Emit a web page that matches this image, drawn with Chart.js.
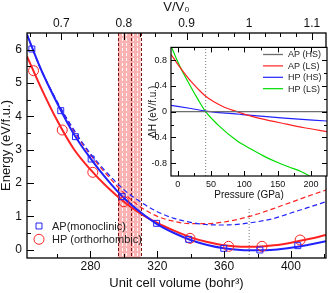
<!DOCTYPE html>
<html>
<head>
<meta charset="utf-8">
<script src="https://cdn.jsdelivr.net/npm/chart.js@4.4.1/dist/chart.umd.min.js"></script>
<style>
  html, body { margin: 0; padding: 0; background: #fff; }
  #wrap { position: relative; width: 332px; height: 293px; }
  #main { position: absolute; left: 0; top: 0; }
  #inset { position: absolute; left: 140px; top: 38px; }
</style>
</head>
<body>
<div id="wrap">
  <canvas id="main" width="332" height="293"></canvas>
  <canvas id="inset" width="192" height="172"></canvas>
</div>
<script>
// ---- main panel: E(V), volume in bohr^3, energy in eV/f.u.
const apVol = [244.9, 262.2, 271.0, 280.4, 299.0, 319.6, 338.8, 359.8, 381.4, 404.1];
const apEnergy = [6.02, 4.17, 3.39, 2.72, 1.59, 0.79, 0.31, 0.04, -0.01, 0.12];
const hpVol = [245.9, 263.1, 281.4, 300.0, 339.6, 362.7, 382.7, 405.5];
const hpEnergy = [5.37, 3.59, 2.32, 1.44, 0.34, 0.10, 0.10, 0.29];

// fitted curves
const fitVol  = [242, 250, 260, 270, 280, 290, 300, 310, 320, 330, 340, 350, 360, 370, 380, 390, 400, 410, 421];
const apFit   = [6.45, 5.45, 4.40, 3.47, 2.74, 2.10, 1.55, 1.12, 0.76, 0.50, 0.29, 0.14, 0.04, -0.01, -0.02, 0.00, 0.06, 0.14, 0.25];
const hpFit   = [5.80, 4.90, 3.88, 3.02, 2.40, 1.88, 1.44, 1.08, 0.80, 0.57, 0.37, 0.23, 0.13, 0.09, 0.09, 0.13, 0.21, 0.31, 0.44];
const apDash  = [6.45, 5.45, 4.45, 3.60, 2.88, 2.30, 1.80, 1.43, 1.14, 0.94, 0.82, 0.75, 0.74, 0.77, 0.84, 0.94, 1.10, 1.26, 1.44];
const hpDash  = [6.45, 5.45, 4.43, 3.56, 2.84, 2.24, 1.70, 1.28, 1.00, 0.85, 0.78, 0.78, 0.83, 0.93, 1.07, 1.24, 1.42, 1.60, 1.79];

const v0 = 375;                       // reference volume for V/V0
const v0Mark = [-0.25, 1.25];         // dotted marker at V0
const bandVol = [296.5, 304, 310];    // shaded transition region

const volRange = [242, 421];
const energyRange = [-0.25, 6.5];
const volTicks = [280, 320, 360, 400];
const volMinor = [260, 300, 340, 380, 420];
const energyTicks = [0, 1, 2, 3, 4, 5, 6];
const energyMinor = [0.5, 1.5, 2.5, 3.5, 4.5, 5.5];
const ratioTicks = [0.7, 0.8, 0.9, 1, 1.1];
const ratioMinor = [0.65, 0.675, 0.725, 0.75, 0.775, 0.825, 0.85, 0.875, 0.925, 0.95, 0.975, 1.025, 1.05, 1.075];

// ---- inset: enthalpy difference vs pressure
const apHsP = [-10, 224];
const apHsH = [0, 0];
const apLsP = [-10, 0, 10, 20, 30, 42, 55, 70, 89, 110, 130, 157, 190, 224];
const apLsH = [0.89, 0.74, 0.60, 0.47, 0.36, 0.24, 0.15, 0.07, 0.00, -0.07, -0.12, -0.18, -0.25, -0.31];
const hpHsP = [-10, 20, 42, 93, 160, 224];
const hpHsH = [0.10, 0.05, 0.01, -0.04, -0.10, -0.145];
const hpLsP = [-9, 0, 5, 10, 20, 30, 42, 60, 90, 110, 133, 150, 167, 185, 198];
const hpLsH = [1.0, 0.78, 0.67, 0.57, 0.38, 0.20, 0.0, -0.2, -0.46, -0.58, -0.71, -0.79, -0.86, -0.93, -1.0];
const transitionP = 42;

const presRange = [-10, 224];
const dHRange = [-1, 1];
const presTicks = [0, 50, 100, 150, 200];
const presMinor = [25, 75, 125, 175];
const dHTicks = [-0.8, -0.4, 0, 0.4, 0.8];
const dHMinor = [-0.6, -0.2, 0.2, 0.6];

const BLUE = '#2222ff';
const RED = '#ff2222';
const GREEN = '#00dd00';
const INK = '#111';

const pts = (xs, ys) => xs.map((x, i) => ({ x: x, y: ys[i] }));
const fixTicks = list => scale => { scale.ticks = list.map(v => ({ value: v })); };

// inward tick marks + frame box
const innerTicks = {
  id: 'innerTicks',
  afterDatasetsDraw(chart, args, opts) {
    if (!opts.marks) return;
    const { ctx, chartArea: a } = chart;
    ctx.save();
    ctx.strokeStyle = '#000';
    ctx.lineWidth = 1;
    opts.marks.forEach(m => {
      const scale = chart.scales[m.scale];
      [[m.major, opts.major], [m.minor, opts.minor]].forEach(([vals, len]) => {
        vals.forEach(v => {
          const p = Math.round(scale.getPixelForValue(v)) + 0.5;
          ctx.beginPath();
          m.sides.forEach(side => {
            if (side === 'bottom') { ctx.moveTo(p, a.bottom); ctx.lineTo(p, a.bottom - len); }
            if (side === 'top') { ctx.moveTo(p, a.top); ctx.lineTo(p, a.top + len); }
            if (side === 'left') { ctx.moveTo(a.left, p); ctx.lineTo(a.left + len, p); }
            if (side === 'right') { ctx.moveTo(a.right, p); ctx.lineTo(a.right - len, p); }
          });
          ctx.stroke();
        });
      });
    });
    ctx.lineWidth = opts.frame || 1.2;
    ctx.strokeRect(a.left, a.top, a.right - a.left, a.bottom - a.top);
    ctx.restore();
  }
};

// white plot background for the inset
const plotBg = {
  id: 'plotBg',
  beforeDraw(chart, args, opts) {
    if (!opts.color) return;
    const { ctx, chartArea: a } = chart;
    ctx.save();
    ctx.fillStyle = opts.color;
    ctx.fillRect(a.left, a.top, a.right - a.left, a.bottom - a.top);
    ctx.restore();
  }
};

// shaded band with hatching
const bandShade = {
  id: 'bandShade',
  beforeDatasetsDraw(chart, args, opts) {
    if (!opts.range) return;
    const { ctx, chartArea: a, scales: { x } } = chart;
    const [lo, mid, hi] = opts.range.map(v => x.getPixelForValue(v));
    ctx.save();
    ctx.fillStyle = '#f9b3b3';
    ctx.fillRect(lo, a.top, hi - lo, a.bottom - a.top);
    ctx.lineWidth = 1;
    ctx.strokeStyle = '#fff';
    ctx.setLineDash([3, 2]);
    [1, 2, 4, 5].forEach(k => {
      const px = Math.round(lo + (hi - lo) * k / 6) + 0.5;
      ctx.beginPath(); ctx.moveTo(px, a.top); ctx.lineTo(px, a.bottom); ctx.stroke();
    });
    ctx.strokeStyle = '#7a1010';
    [lo, mid, hi].forEach(p => {
      const px = Math.round(p) + 0.5;
      ctx.beginPath(); ctx.moveTo(px, a.top); ctx.lineTo(px, a.bottom); ctx.stroke();
    });
    ctx.restore();
  }
};

// small legend drawn from dataset styles
const boxLegend = {
  id: 'boxLegend',
  afterDatasetsDraw(chart, args, opts) {
    if (!opts.items) return;
    const { ctx } = chart;
    ctx.save();
    ctx.font = opts.font;
    ctx.textBaseline = 'middle';
    opts.items.forEach((i, k) => {
      const ds = chart.data.datasets[i];
      const y = opts.y + k * opts.gap;
      if (ds.showLine === false) {
        ctx.strokeStyle = ds.borderColor;
        ctx.fillStyle = 'rgba(0,0,0,0)';
        ctx.lineWidth = ds.pointBorderWidth;
        Chart.helpers.drawPoint(ctx, { pointStyle: ds.pointStyle, radius: ds.pointRadius, rotation: 0, borderWidth: ds.pointBorderWidth }, opts.x, y);
      } else {
        ctx.strokeStyle = ds.borderColor;
        ctx.lineWidth = ds.borderWidth;
        ctx.beginPath(); ctx.moveTo(opts.x, y); ctx.lineTo(opts.x + opts.len, y); ctx.stroke();
      }
      ctx.fillStyle = opts.color;
      ctx.fillText(ds.label, opts.textX, y + 0.5);
    });
    ctx.restore();
  }
};

Chart.defaults.font.family = '"Liberation Sans", Arial, Helvetica, sans-serif';
Chart.defaults.color = INK;

const mainChart = new Chart(document.getElementById('main'), {
  type: 'line',
  data: {
    datasets: [
      { label: 'AP(monoclinic)', data: pts(apVol, apEnergy), showLine: false, pointStyle: 'rect',
        pointRadius: 4.2, pointBorderWidth: 1, borderColor: BLUE, backgroundColor: 'rgba(0,0,0,0)' },
      { label: 'HP (orthorhombic)', data: pts(hpVol, hpEnergy), showLine: false, pointStyle: 'circle',
        pointRadius: 5, pointBorderWidth: 1, borderColor: RED, backgroundColor: 'rgba(0,0,0,0)' },
      { label: 'AP fit', data: pts(fitVol, apFit), borderColor: BLUE, borderWidth: 2, pointRadius: 0, cubicInterpolationMode: 'monotone' },
      { label: 'HP fit', data: pts(fitVol, hpFit), borderColor: RED, borderWidth: 2, pointRadius: 0, cubicInterpolationMode: 'monotone' },
      { label: 'AP dashed', data: pts(fitVol, apDash), borderColor: BLUE, borderWidth: 1.2, borderDash: [5, 3], pointRadius: 0, cubicInterpolationMode: 'monotone' },
      { label: 'HP dashed', data: pts(fitVol, hpDash), borderColor: RED, borderWidth: 1.2, borderDash: [5, 3], pointRadius: 0, cubicInterpolationMode: 'monotone' },
      { label: 'V0', data: pts([v0, v0], v0Mark), borderColor: '#777', borderWidth: 1, borderDash: [1, 2], pointRadius: 0 }
    ]
  },
  options: {
    responsive: false,
    animation: false,
    devicePixelRatio: 1,
    layout: { padding: { left: 0, right: 1, top: 0, bottom: 0 } },
    plugins: {
      legend: { display: false },
      tooltip: { enabled: false },
      bandShade: { range: bandVol },
      innerTicks: {
        major: 7, minor: 4, frame: 1.3,
        marks: [
          { scale: 'x', major: volTicks, minor: volMinor, sides: ['bottom'] },
          { scale: 'x2', major: ratioTicks, minor: ratioMinor, sides: ['top'] },
          { scale: 'y', major: energyTicks, minor: energyMinor, sides: ['left'] }
        ]
      },
      boxLegend: { items: [0, 1], x: 39, y: 226, gap: 13.3, textX: 52, font: '11px "Liberation Sans", Arial, sans-serif', color: '#222' }
    },
    scales: {
      x: {
        type: 'linear', position: 'bottom', min: volRange[0], max: volRange[1],
        afterBuildTicks: fixTicks(volTicks),
        afterFit: s => { s.height = 35; },
        grid: { display: false, drawTicks: false }, border: { display: false },
        ticks: { padding: 1, font: { size: 12 }, maxRotation: 0, autoSkip: false, callback: v => String(v) },
        title: { display: true, text: 'Unit cell volume (bohr³)', font: { size: 13 }, padding: { top: 0, bottom: 2 } }
      },
      x2: {
        type: 'linear', position: 'top', min: volRange[0] / v0, max: volRange[1] / v0,
        afterBuildTicks: fixTicks(ratioTicks),
        afterFit: s => { s.height = 33; },
        grid: { display: false, drawTicks: false }, border: { display: false },
        ticks: { padding: 2, font: { size: 12 }, maxRotation: 0, autoSkip: false, callback: v => String(v) },
        title: { display: true, text: 'V/V₀', font: { size: 13 }, padding: { top: 0, bottom: 0 } }
      },
      y: {
        type: 'linear', position: 'left', min: energyRange[0], max: energyRange[1],
        afterBuildTicks: fixTicks(energyTicks),
        afterFit: s => { s.width = 27; },
        grid: { display: false, drawTicks: false }, border: { display: false },
        ticks: { padding: 5, font: { size: 12 }, autoSkip: false, callback: v => String(v) },
        title: { display: true, text: 'Energy (eV/f.u.)', font: { size: 13, lineHeight: 1 }, padding: { top: 0, bottom: 0 } }
      }
    }
  },
  plugins: [bandShade, innerTicks, boxLegend]
});

const insetChart = new Chart(document.getElementById('inset'), {
  type: 'line',
  data: {
    datasets: [
      { label: 'AP (HS)', data: pts(apHsP, apHsH), borderColor: '#6e6e6e', borderWidth: 1.3, pointRadius: 0 },
      { label: 'AP (LS)', data: pts(apLsP, apLsH), borderColor: RED, borderWidth: 1.2, pointRadius: 0, cubicInterpolationMode: 'monotone' },
      { label: 'HP (HS)', data: pts(hpHsP, hpHsH), borderColor: BLUE, borderWidth: 1.2, pointRadius: 0, cubicInterpolationMode: 'monotone' },
      { label: 'HP (LS)', data: pts(hpLsP, hpLsH), borderColor: GREEN, borderWidth: 1.2, pointRadius: 0, cubicInterpolationMode: 'monotone' },
      { label: 'Pt', data: pts([transitionP, transitionP], dHRange), borderColor: '#777', borderWidth: 1, borderDash: [1, 2], pointRadius: 0 }
    ]
  },
  options: {
    responsive: false,
    animation: false,
    devicePixelRatio: 1,
    layout: { padding: { left: 0, right: 5, top: 5, bottom: 0 } },
    plugins: {
      legend: { display: false },
      tooltip: { enabled: false },
      plotBg: { color: '#fff' },
      innerTicks: {
        major: 5, minor: 3, frame: 1.2,
        marks: [
          { scale: 'x', major: presTicks, minor: presMinor, sides: ['bottom', 'top'] },
          { scale: 'y', major: dHTicks, minor: dHMinor, sides: ['left', 'right'] }
        ]
      },
      boxLegend: { items: [0, 1, 2, 3], x: 123, y: 16.5, gap: 11.4, len: 20, textX: 148, font: '9px "Liberation Sans", Arial, sans-serif', color: '#222' }
    },
    scales: {
      x: {
        type: 'linear', position: 'bottom', min: presRange[0], max: presRange[1],
        afterBuildTicks: fixTicks(presTicks),
        afterFit: s => { s.height = 34; },
        grid: { display: false, drawTicks: false }, border: { display: false },
        ticks: { padding: 3, font: { size: 9 }, maxRotation: 0, autoSkip: false, callback: v => String(v) },
        title: { display: true, text: 'Pressure (GPa)', font: { size: 10 }, padding: { top: 0, bottom: 9 } }
      },
      y: {
        type: 'linear', position: 'left', min: dHRange[0], max: dHRange[1],
        afterBuildTicks: fixTicks(dHTicks),
        afterFit: s => { s.width = 31; },
        grid: { display: false, drawTicks: false }, border: { display: false },
        ticks: { padding: 4, font: { size: 9 }, autoSkip: false, callback: v => String(v) },
        title: { display: true, text: 'ΔH (eV/f.u.)', font: { size: 10 }, padding: { top: 7, bottom: 0 } }
      }
    }
  },
  plugins: [plotBg, innerTicks, boxLegend]
});
</script>
</body>
</html>
